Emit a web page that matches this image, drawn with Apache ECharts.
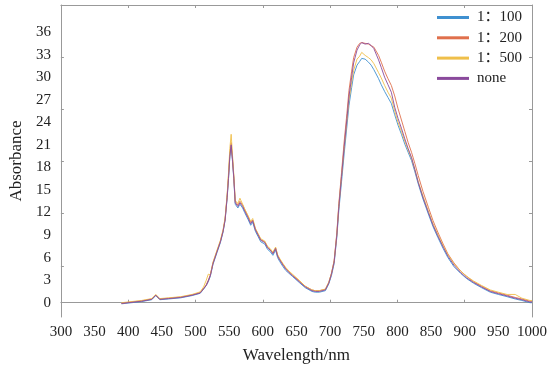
<!DOCTYPE html>
<html>
<head>
<meta charset="utf-8">
<script src="https://cdn.jsdelivr.net/npm/echarts@6/dist/echarts.min.js"></script>
<style>html,body{margin:0;padding:0;background:#fff}#c{width:550px;height:369px}</style>
</head>
<body>
<div id="c"></div>
<script>
var wavelengths = [390,400,420,435,441,447,460,478,495,507,512,516,519,522,526,532,537,541,544,547,549,551,553,555,557,559,563,566,570,573,578,582,585,589,593,597,603,607,611,615,619,622,625,630,634,639,644,654,663,673,678,684,693,698,702,706,710,713,717,721,725,728,732,735,740,744,747,752,757,761,765,772,776,781,786,791,796,801,806,811,816,821,826,831,838,846,853,860,868,875,884,894,903,913,925,938,950,963,975,985,997,1000];

var none = [-0.1,0.0,0.2,0.45,1.0,0.45,0.55,0.7,1.0,1.3,1.85,2.3,2.9,3.6,5.2,6.8,8.1,9.5,11.0,14.0,16.5,19.5,21.0,19.0,16.5,13.3,12.8,13.3,12.8,12.2,11.3,10.5,10.9,9.7,9.0,8.3,8.0,7.3,7.0,6.5,7.2,6.2,5.7,5.0,4.5,4.0,3.6,2.8,2.1,1.6,1.5,1.5,1.7,2.6,3.8,5.4,9.0,12.8,16.8,20.8,24.5,27.4,30.0,31.9,33.6,34.3,34.6,34.4,34.5,34.2,33.8,32.3,31.3,30.0,29.0,28.0,26.0,24.5,23.2,21.8,20.5,19.3,17.7,16.0,14.0,12.0,10.3,8.9,7.4,6.2,5.0,4.0,3.3,2.7,2.1,1.5,1.2,0.9,0.6,0.4,0.1,0.1];

var r200 = [-0.1,0.05,0.25,0.5,1.0,0.5,0.6,0.75,1.05,1.35,1.9,2.4,3.0,3.7,5.3,6.9,8.2,9.6,11.2,14.2,16.8,19.8,21.3,19.2,16.6,13.5,13.0,13.5,13.0,12.4,11.5,10.7,11.0,9.8,9.1,8.4,8.1,7.4,7.1,6.6,7.3,6.3,5.8,5.1,4.6,4.1,3.7,2.9,2.2,1.7,1.6,1.6,1.8,2.7,3.9,5.6,9.3,13.2,17.3,21.5,25.2,28.2,30.8,32.6,34.0,34.5,34.6,34.5,34.4,34.2,34.0,32.9,32.0,30.8,29.8,28.9,27.5,25.8,24.3,22.8,21.3,20.0,18.5,16.9,14.8,12.7,10.9,9.4,7.8,6.5,5.3,4.2,3.5,2.8,2.2,1.6,1.3,1.0,0.7,0.5,0.2,0.2];

var r500 = [0.0,0.1,0.3,0.55,1.1,0.55,0.65,0.8,1.1,1.45,2.1,3.0,3.8,3.7,5.4,7.0,8.3,9.7,11.3,14.4,17.2,20.5,22.4,19.6,16.9,13.6,13.2,13.9,13.1,12.5,11.6,10.8,11.2,9.9,9.2,8.5,8.2,7.5,7.2,6.7,7.4,6.4,5.9,5.2,4.7,4.2,3.8,3.0,2.2,1.7,1.6,1.6,1.8,2.7,3.9,5.5,9.1,12.9,16.8,20.6,24.2,26.9,29.3,30.9,32.4,32.8,33.3,32.9,32.6,32.3,31.8,30.6,29.9,28.9,28.0,27.2,25.5,24.0,22.8,21.5,20.3,19.2,17.7,16.1,14.2,12.2,10.5,9.1,7.6,6.4,5.2,4.2,3.5,2.9,2.3,1.7,1.4,1.1,1.1,0.6,0.3,0.3];

var r100 = [-0.15,-0.05,0.15,0.4,0.95,0.4,0.5,0.65,0.95,1.25,1.8,2.3,2.8,3.5,5.1,6.7,8.0,9.4,11.0,13.9,16.4,19.4,20.8,18.8,16.3,13.1,12.6,13.1,12.6,12.0,11.1,10.3,10.7,9.5,8.8,8.1,7.8,7.1,6.8,6.3,7.0,6.0,5.5,4.8,4.3,3.9,3.5,2.7,2.0,1.5,1.4,1.4,1.6,2.5,3.6,5.2,8.7,12.3,16.1,19.9,23.5,26.2,28.6,30.3,31.6,32.1,32.5,32.4,32.0,31.6,31.0,29.8,29.0,28.1,27.3,26.5,25.0,23.6,22.4,21.1,20.0,18.9,17.4,15.8,13.8,11.8,10.1,8.7,7.2,6.0,4.8,3.9,3.2,2.6,2.0,1.4,1.1,0.8,0.5,0.3,0.0,0.0];

var seriesNames = ['1：100','1：200','1：500','none'];
var seriesColors = ['#3f90d0','#e0704c','#efbf4a','#8a4a9c'];
var seriesValues = [r100, r200, r500, none];

var xLabelValues = [300,350,400,450,500,550,600,650,700,750,800,850,900,950,1000];
var xTickValues = [300,400,500,600,700,800,900,1000];
var yLabelValues = [0,3,6,9,12,15,18,21,24,27,30,33,36];
var yTickValues = [4.9,11.85,18.8,25.75,32.7];

function pairs(vals){ return wavelengths.map(function(w,i){ return [w, vals[i]]; }); }
function plain(v){ return String(v); }

var font = "'Liberation Serif','Noto Sans CJK SC',serif";
var axisColor = '#999999';

var chart = echarts.init(document.getElementById('c'), null, {renderer:'canvas'});
chart.setOption({
  animation: false,
  backgroundColor: '#fff',
  grid: {left: 53, right: 18, top: 5, bottom: 51, containLabel: false},
  legend: {
    data: seriesNames,
    orient: 'vertical',
    left: 437, top: 10,
    padding: 0,
    itemWidth: 32, itemHeight: 3, itemGap: 5.3,
    icon: 'rect',
    textStyle: {fontFamily: font, fontSize: 15, color: '#222', lineHeight: 15, padding: [0,0,0,3]}
  },
  xAxis: [{
    type: 'value', min: 300, max: 1000, position: 'bottom',
    name: 'Wavelength/nm', nameLocation: 'middle', nameGap: 30,
    nameTextStyle: {fontFamily: font, fontSize: 17, color: '#222'},
    axisLine: {show: true, lineStyle: {color: axisColor}},
    axisTick: {show: true, inside: true, length: 3, customValues: xTickValues, lineStyle: {color: axisColor}},
    axisLabel: {customValues: xLabelValues, formatter: plain, fontFamily: font, fontSize: 15, color: '#222', margin: 8},
    splitLine: {show: false}
  },{
    type: 'value', min: 300, max: 1000, position: 'top',
    axisLine: {show: true, onZero: false, lineStyle: {color: axisColor}},
    axisTick: {show: true, inside: true, length: 3, customValues: xTickValues, lineStyle: {color: axisColor}},
    axisLabel: {show: false},
    splitLine: {show: false}
  }],
  yAxis: [{
    type: 'value', min: -1.9, max: 39.6, position: 'left',
    name: 'Absorbance', nameLocation: 'middle', nameGap: 33,
    nameTextStyle: {fontFamily: font, fontSize: 17, color: '#222'},
    axisLine: {show: true, onZero: false, lineStyle: {color: axisColor}},
    axisTick: {show: true, inside: true, length: 3, customValues: yTickValues, lineStyle: {color: axisColor}},
    axisLabel: {customValues: yLabelValues, formatter: plain, fontFamily: font, fontSize: 15, color: '#222', margin: 10},
    splitLine: {show: false}
  },{
    type: 'value', min: -1.9, max: 39.6, position: 'right',
    axisLine: {show: true, onZero: false, lineStyle: {color: axisColor}},
    axisTick: {show: true, inside: true, length: 3, customValues: yTickValues, lineStyle: {color: axisColor}},
    axisLabel: {show: false},
    splitLine: {show: false}
  }],
  series: seriesNames.map(function(n, i){
    return {
      name: n, type: 'line', xAxisIndex: 0, yAxisIndex: 0,
      data: pairs(seriesValues[i]),
      showSymbol: false, symbol: 'none',
      color: seriesColors[i],
      lineStyle: {width: 1, color: seriesColors[i], opacity: 0.9},
      z: 2 + i
    };
  })
});
</script>
</body>
</html>
